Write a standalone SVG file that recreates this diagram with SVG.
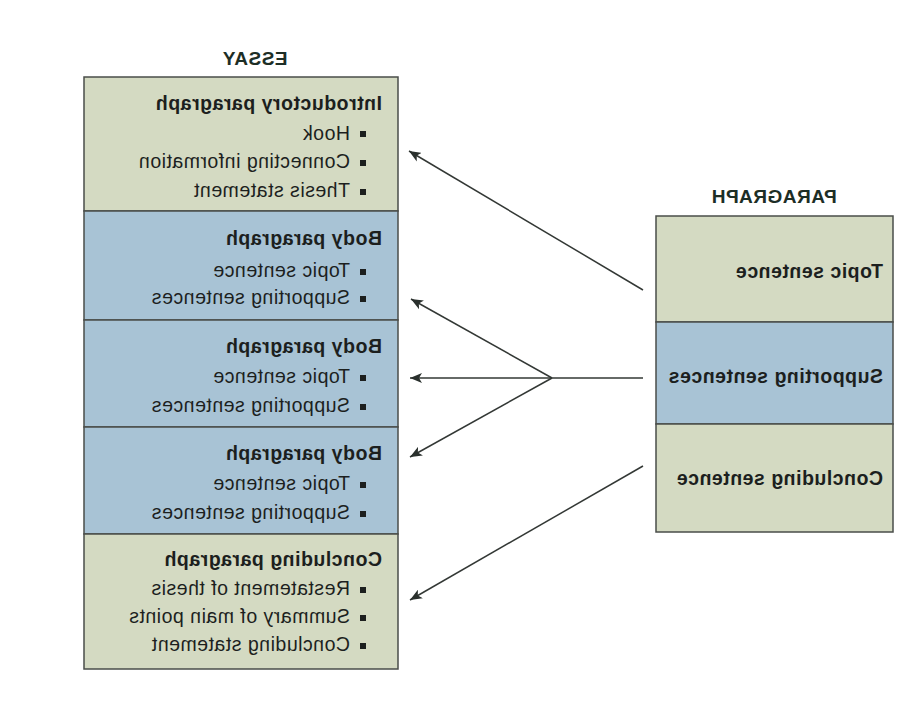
<svg xmlns="http://www.w3.org/2000/svg" width="924" height="718" viewBox="0 0 924 718">
<style>
  .green { fill: #d4dac2; stroke: #4a4d4a; stroke-width: 1.5; }
  .blue { fill: #a8c3d5; stroke: #4a4d4a; stroke-width: 1.5; }
  .t { font-family: "Liberation Sans", Arial, sans-serif; font-size: 19.5px; letter-spacing: 0.5px; fill: #1c1f1e; }
  .b { font-weight: bold; }
  .title { font-family: "Liberation Sans", Arial, sans-serif; font-size: 19px; font-weight: bold; fill: #1d2e26; letter-spacing: 0.5px; text-anchor: middle; }
  .bul { fill: #1c1f1e; }
  .conn { stroke: #333835; stroke-width: 1.5; fill: none; }
</style>
<defs>
  <marker id="ah" markerUnits="userSpaceOnUse" markerWidth="14" markerHeight="12" refX="12" refY="5" orient="auto">
    <path d="M0,0 L12,5 L0,10 L3,5 Z" fill="#2a302d"/>
  </marker>
</defs>
<rect width="924" height="718" fill="#ffffff"/>
<g transform="translate(924,0) scale(-1,1)">
  <g id="essay">
    <text class="title" x="669" y="65">ESSAY</text>
    <g id="intro">
      <rect class="green" x="526" y="77" width="314" height="134"/>
      <text class="t b" x="542" y="110">Introductory paragraph</text>
      <rect class="bul" x="558" y="131" width="6" height="6"/>
      <text class="t" x="574" y="140">Hook</text>
      <rect class="bul" x="558" y="160" width="6" height="6"/>
      <text class="t" x="574" y="168">Connecting information</text>
      <rect class="bul" x="558" y="189" width="6" height="6"/>
      <text class="t" x="574" y="197">Thesis statement</text>
    </g>
    <g id="body1">
      <rect class="blue" x="526" y="211" width="314" height="109"/>
      <text class="t b" x="542" y="245">Body paragraph</text>
      <rect class="bul" x="558" y="269" width="6" height="6"/>
      <text class="t" x="574" y="277">Topic sentence</text>
      <rect class="bul" x="558" y="296" width="6" height="6"/>
      <text class="t" x="574" y="304">Supporting sentences</text>
    </g>
    <g id="body2">
      <rect class="blue" x="526" y="320" width="314" height="107"/>
      <text class="t b" x="542" y="353">Body paragraph</text>
      <rect class="bul" x="558" y="375" width="6" height="6"/>
      <text class="t" x="574" y="383">Topic sentence</text>
      <rect class="bul" x="558" y="404" width="6" height="6"/>
      <text class="t" x="574" y="412">Supporting sentences</text>
    </g>
    <g id="body3">
      <rect class="blue" x="526" y="427" width="314" height="107"/>
      <text class="t b" x="542" y="460">Body paragraph</text>
      <rect class="bul" x="558" y="482" width="6" height="6"/>
      <text class="t" x="574" y="490">Topic sentence</text>
      <rect class="bul" x="558" y="511" width="6" height="6"/>
      <text class="t" x="574" y="519">Supporting sentences</text>
    </g>
    <g id="concluding">
      <rect class="green" x="526" y="534" width="314" height="135"/>
      <text class="t b" x="542" y="566">Concluding paragraph</text>
      <rect class="bul" x="558" y="587" width="6" height="6"/>
      <text class="t" x="574" y="595">Restatement of thesis</text>
      <rect class="bul" x="558" y="615" width="6" height="6"/>
      <text class="t" x="574" y="623">Summary of main points</text>
      <rect class="bul" x="558" y="643" width="6" height="6"/>
      <text class="t" x="574" y="651">Concluding statement</text>
    </g>
  </g>
  <g id="paragraph">
    <text class="title" x="150" y="203">PARAGRAPH</text>
    <g id="p-topic">
      <rect class="green" x="31" y="216" width="237" height="106"/>
      <text class="t b" x="41" y="278">Topic sentence</text>
    </g>
    <g id="p-supporting">
      <rect class="blue" x="31" y="322" width="237" height="102"/>
      <text class="t b" x="41" y="383">Supporting sentences</text>
    </g>
    <g id="p-concluding">
      <rect class="green" x="31" y="424" width="237" height="108"/>
      <text class="t b" x="41" y="485">Concluding sentence</text>
    </g>
  </g>
  <g id="connectors">
    <line class="conn" x1="281" y1="290" x2="515" y2="151" marker-end="url(#ah)"/>
    <line class="conn" x1="281" y1="378" x2="372" y2="378"/>
    <line class="conn" x1="372" y1="378" x2="513" y2="299" marker-end="url(#ah)"/>
    <line class="conn" x1="372" y1="378" x2="514" y2="378" marker-end="url(#ah)"/>
    <line class="conn" x1="372" y1="378" x2="514" y2="457" marker-end="url(#ah)"/>
    <line class="conn" x1="281" y1="466" x2="514" y2="600" marker-end="url(#ah)"/>
  </g>
</g>
</svg>
